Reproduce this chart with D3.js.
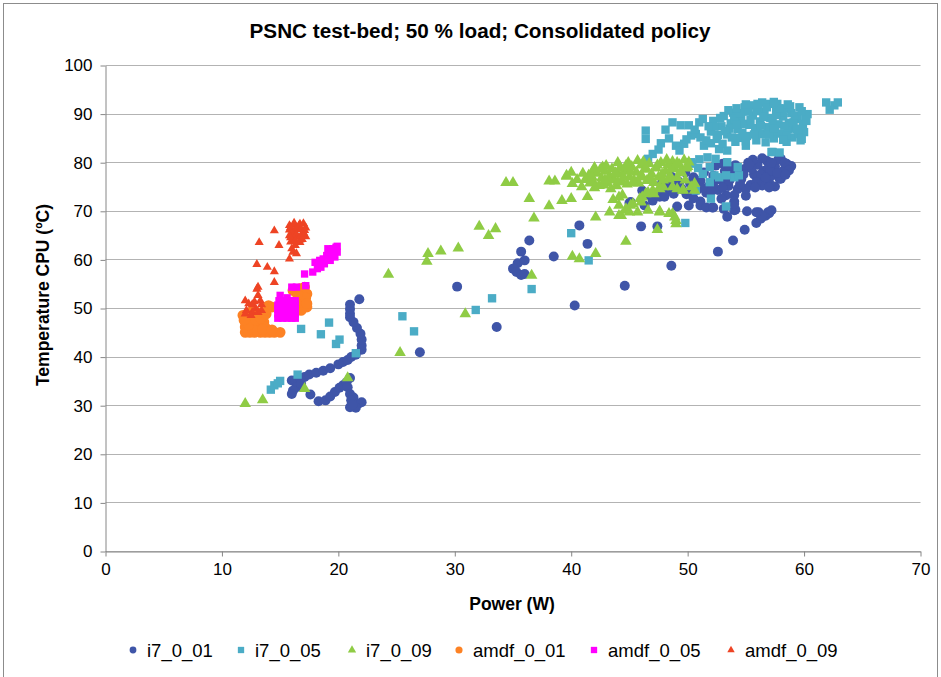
<!DOCTYPE html>
<meta charset="utf-8">
<style>
body { margin: 0; background: #fff; }
text { font-family: "Liberation Sans", Arial, sans-serif; fill: #000; }
.grid line { stroke: #b3b3b3; stroke-width: 1.2px; }
.axis path, .axis line { stroke: #868686; }
.title { font-size: 20.7px; font-weight: bold; }
.atitle { font-size: 17.5px; font-weight: bold; }
.legend text { font-size: 18.5px; }
</style>
<body>
<script src="https://d3js.org/d3.v7.min.js"></script>
<script>

// series names and tick values
var seriesNames = ["i7_0_01", "i7_0_05", "i7_0_09", "amdf_0_01", "amdf_0_05", "amdf_0_09"];
var xTicks = [0, 10, 20, 30, 40, 50, 60, 70];
var yTicks = [0, 10, 20, 30, 40, 50, 60, 70, 80, 90, 100];

// [power W, temperature C]
var i7_0_01 = [
  [16.0,35.2],[16.3,35.2],[16.7,35.7],[17.1,35.9],[17.5,36.4],[18.1,36.8],[18.7,37.2],[19.3,37.7],
  [20.0,38.5],[20.4,39.0],[20.8,39.4],[21.1,40.0],[21.5,40.5],[22.0,41.5],[22.0,42.4],[22.0,43.6],
  [21.9,44.8],[21.6,46.0],[21.3,47.2],[21.0,48.2],[21.0,48.9],[21.0,49.9],[21.0,50.8],[21.8,51.9],
  [16.4,33.8],[16.1,33.1],[16.0,32.4],[16.8,34.5],[17.6,32.3],[18.3,30.9],[18.9,31.1],[19.3,31.9],
  [19.7,32.8],[20.1,33.7],[20.4,34.2],[20.7,34.8],[21.0,35.7],[20.8,33.8],[21.0,32.4],[21.3,31.7],
  [21.1,31.1],[21.3,30.0],[21.7,30.4],[22.0,30.7],[21.0,29.7],[21.5,29.6],[21.2,30.2],
  [27.0,41.0],[30.2,54.5],[33.6,46.2],[35.4,59.3],[35.0,58.2],[35.3,57.5],[35.7,56.9],[36.0,57.1],
  [35.7,61.7],[36.0,59.9],[36.4,64.0],[38.5,60.7],[40.3,50.6],[40.7,67.1],[41.4,63.3],[44.6,54.7],
  [48.6,58.8],[46.0,66.9],[47.4,66.9],[45.0,71.7],[52.6,61.7],[53.9,64.0],[54.9,66.2],[55.9,67.6],
  [56.3,68.5],[56.7,69.1],[57.0,69.6],[53.4,68.9],[55.1,70.0],[56.1,69.8],[56.9,69.8],[54.0,70.2],
  [50.1,71.2],[51.1,72.0],[52.1,70.8],[53.1,70.5],[54.1,70.3],[57.2,70.2],[56.4,69.1],
  [45.1,71.9],[46.1,74.3],[46.7,73.3],[47.0,72.2],[46.3,71.2],[47.6,73.0],[48.1,74.0],[48.4,75.3],
  [48.8,73.6],[49.2,76.2],[49.5,74.6],[49.9,73.5],[50.2,75.8],[50.5,77.0],[50.8,74.4],[51.1,76.3],
  [51.4,78.0],[51.6,73.8],[51.9,75.4],[52.2,77.3],[52.4,79.4],[52.6,74.4],[52.9,76.4],[53.2,78.3],
  [53.5,75.2],[53.8,77.5],[54.1,79.5],[54.3,74.6],[54.6,76.6],[54.9,78.7],[55.2,80.0],[55.4,75.4],
  [55.7,77.6],[56.0,79.6],[56.2,76.3],[56.5,78.3],[56.8,80.4],[57.0,75.9],[57.3,77.4],[57.5,79.2],
  [57.8,80.7],[58.0,76.7],[58.2,78.3],[58.5,79.8],[58.9,79.3],[58.0,80.8],[53.3,73.3],[52.9,72.6],
  [54.0,73.3],[54.0,72.0],[54.0,71.5],[51.1,71.2],[51.6,70.8],[52.2,70.8],[49.1,71.0],
  [50.5,72.7],[53.0,79.8],[55.6,80.6],[56.9,78.8],[55.0,74.6],[56.4,75.3],[57.9,76.7],[48.6,77.1],
  [49.8,78.0],[47.8,75.8],[55.9,69.8],[55.0,73.2],[57.5,75.1],
  [55.5,78.8],[56.3,77.6],[57.1,78.4],[57.7,77.9],[58.3,80.0],[58.7,78.4],[56.7,76.9],[55.9,76.0],
  [54.8,77.6],[53.6,76.4],[52.2,75.8],[51.3,74.8],[50.3,74.0],[49.3,75.3],[48.0,73.0],[54.5,75.6],
  [55.8,74.9],[57.0,74.9],[58.4,77.5],[53.0,74.9],[52.0,74.0],[50.7,75.6],[54.1,78.0],[55.3,79.6],
  [56.4,80.9],[57.2,80.0],[53.6,79.2]
];

var i7_0_05 = [
  [14.2,33.3],[14.5,34.2],[15.0,35.1],[14.8,34.6],[16.5,36.4],[16.8,45.8],[18.5,44.7],[19.2,47.1],
  [19.8,42.7],[20.1,43.6],[21.5,40.8],[25.5,48.4],[26.5,45.3],[31.8,49.7],[33.2,52.1],[36.6,54.0],
  [40.0,65.5],[41.5,59.9],[49.8,67.6],[53.3,71.0],[52.0,72.6],[50.7,74.3],
  [50.3,80.1],[51.0,80.7],[51.7,81.1],[52.4,80.8],[53.4,80.1],[54.3,79.1],[50.9,78.9],[51.9,79.1],
  [52.3,77.4],[52.7,77.0],[53.3,77.4],[54.0,77.0],[51.9,76.0],[50.4,79.8],[51.3,77.7],[54.4,77.4],
  [57.3,82.2],[57.9,82.1],
  [46.4,86.6],[46.4,84.9],[48.1,86.8],[48.7,88.3],[49.4,87.7],[50.1,87.7],[49.0,83.5],[49.3,82.5],
  [49.7,83.9],[50.3,85.6],[50.7,85.9],[51.1,85.2],[51.4,83.5],[51.6,84.6],[46.6,80.8],[47.0,81.8],
  [47.5,82.7],[51.0,88.3],[51.3,89.0],
  [52.0,86.4],[52.2,88.6],[52.5,84.9],[52.7,82.8],[52.9,87.5],[53.1,89.6],[53.4,82.5],[53.4,85.8],
  [53.7,88.1],[53.9,90.3],[54.1,84.3],[54.3,86.9],[54.6,89.0],[54.9,91.4],[55.0,83.5],[55.1,85.5],
  [55.3,87.8],[55.5,91.8],[55.6,89.7],[55.9,84.6],[56.0,86.6],[56.2,88.5],[56.4,92.4],[56.4,85.9],
  [56.6,90.4],[56.9,87.3],[57.0,92.1],[57.1,89.2],[57.2,82.2],[57.4,85.0],[57.6,90.9],[57.7,92.1],
  [57.8,87.9],[58.0,86.0],[58.2,89.5],[58.4,91.1],[58.5,84.3],[58.7,88.2],[58.9,90.2],[59.0,85.2],
  [59.2,87.0],[59.4,89.0],[59.6,91.4],[59.7,84.6],[59.9,88.0],[60.1,89.6],[60.3,90.0],[60.0,86.3],
  [52.6,85.7],[53.0,83.9],[53.6,87.0],[54.0,89.0],[54.4,85.1],[54.8,88.0],[55.2,90.5],[55.8,87.1],
  [56.1,91.1],[56.7,84.2],[57.3,88.4],[57.5,86.5],[58.1,90.3],[58.6,86.9],[59.1,88.3],[59.5,85.9],
  [52.3,87.4],[52.8,89.2],[53.2,86.5],[53.8,85.2],[54.2,87.8],[54.5,90.2],[54.7,86.2],[55.0,84.4],
  [55.4,88.8],[55.7,85.8],[55.9,90.6],[56.3,87.6],[56.5,89.4],[56.8,91.4],[57.0,85.8],[57.4,87.0],
  [57.6,89.8],[57.9,91.2],[58.3,87.6],[58.5,85.6],[58.8,91.6],[59.2,89.7],[59.4,86.9],[59.8,90.6],
  [60.2,88.6],[59.8,84.9],[58.2,84.7],[53.5,90.8],[54.2,91.2],[55.0,92.0],[56.0,92.1],[57.4,92.5],
  [58.6,92.0],[52.0,84.0],[51.8,87.5],[50.6,86.8],[49.9,84.8],[48.4,85.0],[47.7,84.0],
  [61.9,92.4],[62.2,90.9],[62.6,91.8],[62.9,92.4]
];

var i7_0_09 = [
  [12.0,30.4],[13.5,31.2],[17.1,33.5],[20.8,35.7],[24.3,57.0],[25.3,40.9],[27.6,59.7],[27.7,61.3],
  [28.8,61.8],[30.3,62.4],[30.9,48.9],[32.1,66.9],[32.9,65.0],[33.5,66.4],[34.4,75.9],[35.0,75.9],
  [36.4,72.6],[36.8,68.6],[36.6,56.8],[38.1,71.1],[38.1,76.2],[38.6,76.2],[39.6,77.2],[39.2,72.2],
  [40.0,72.6],[40.1,60.7],[40.7,60.2],[42.1,61.3],[44.7,63.8],[47.4,66.2],
  [42.1,68.8],[43.3,69.8],[44.3,69.1],[44.7,70.2],[45.7,69.8],[46.6,70.2],[47.6,69.8],[48.7,69.5],
  [49.0,68.1],[49.0,67.4],[44.1,69.1],[44.7,70.5],[45.0,69.8],[48.4,69.5],[48.9,68.8],[47.6,70.0],
  [45.3,71.5],[45.9,72.6],[46.4,73.6],[47.0,74.3],[47.6,75.0],[44.4,73.3],[43.6,72.4],[41.4,73.0],
  [44.1,72.9],[44.1,71.2],[45.1,71.2],[46.0,71.9],[46.1,72.9],[46.6,73.9],[47.1,73.6],[47.6,74.6],
  [47.9,75.0],[48.7,75.0],[49.1,74.6],[49.6,74.3],[50.6,75.7],[50.3,75.0],[50.6,74.3],[49.6,74.4],
  [39.6,77.4],[40.1,75.7],[40.9,75.0],[41.6,75.8],[41.8,78.0],[42.7,79.1],
  [41.2,76.5],[41.5,77.4],[41.9,76.0],[42.2,77.8],[42.4,75.3],[42.6,76.8],[42.9,78.2],[43.1,75.9],
  [43.3,77.3],[43.5,78.7],[43.7,76.4],[43.9,75.2],[44.1,77.6],[44.2,79.0],[44.4,76.1],[44.6,78.3],
  [44.8,75.6],[45.0,77.0],[45.2,79.2],[45.4,76.4],[45.6,78.0],[45.8,75.8],[46.0,79.5],[46.1,77.2],
  [46.3,78.6],[46.5,76.3],[46.7,79.8],[46.9,77.7],[47.1,75.9],[47.3,78.9],[47.5,77.0],[47.7,80.0],
  [47.9,76.4],[48.1,78.2],[48.3,79.5],[48.5,77.3],[48.7,80.2],[48.9,78.7],[49.1,76.9],[49.3,79.6],
  [49.5,77.9],[49.7,80.5],[49.9,78.9],[50.1,80.1],[42.0,79.0],[43.0,79.4],[44.9,80.0],[45.7,80.4],
  [44.7,79.4],[40.5,76.5],[40.0,78.0],
  [41.0,77.8],[41.8,77.0],[42.5,78.6],[43.2,76.6],[43.8,77.9],[44.5,77.0],[45.1,78.2],[45.9,77.0],
  [46.4,79.0],[46.8,76.6],[47.4,79.5],[47.8,77.6],[48.4,76.6],[48.6,78.7],[49.1,80.0],[49.4,78.3],
  [49.8,76.4],[50.0,79.2],[45.3,75.8],[44.0,76.0],[42.8,75.4],[42.0,74.8],[43.4,74.6],[48.2,80.6],
  [46.2,80.2],[44.0,80.0],[42.9,76.4]
];

var amdf_0_01 = [
  [12.0,45.1],[12.4,45.1],[12.8,45.1],[13.3,45.1],[13.7,45.1],[14.1,45.1],[14.5,45.1],[15.0,45.1],
  [12.0,47.2],[12.4,47.2],[12.8,47.2],[13.6,47.2],[11.8,48.6],[12.3,48.6],[12.7,48.6],[13.3,48.6],
  [12.0,46.2],[12.7,46.2],[13.7,46.2],[14.0,50.6],[14.3,50.3],[13.5,49.2],[12.2,47.8],[13.1,46.8],
  [12.2,45.6],[12.6,45.8],[13.0,45.5],[13.5,45.7],[14.3,45.6],[12.3,46.6],[12.9,47.6],[13.3,47.9],
  [11.9,47.6],[12.5,49.3],[12.9,49.3],[13.8,48.9],
  [16.1,53.7],[16.7,54.1],[17.1,54.4],[17.3,53.0],[17.0,51.6],[16.7,50.9],[17.3,50.3],[16.8,49.6],
  [16.3,49.6],[16.0,51.3],[17.2,52.2],[16.5,52.8],[17.3,51.0]
];

var amdf_0_05 = [
  [14.8,48.0],[15.2,48.0],[15.6,48.0],[16.0,48.0],[16.3,48.0],[14.8,48.9],[15.2,48.9],[15.6,48.9],
  [16.0,48.9],[16.3,48.9],[14.8,49.8],[15.2,49.8],[15.6,49.8],[16.0,49.8],[16.3,49.8],[14.8,50.7],
  [15.2,50.7],[15.6,50.7],[16.0,50.7],[16.3,50.7],[14.9,51.6],[15.2,51.6],[15.6,51.6],[16.0,51.6],
  [16.3,51.6],[15.0,52.7],[15.6,52.2],[16.0,54.4],[16.4,54.4],[17.2,54.7],[17.1,57.1],[17.8,57.5],
  [18.2,58.2],[18.5,58.5],[18.0,59.5],[18.4,59.9],[18.7,60.2],[19.0,60.9],[19.3,61.6],[19.5,62.3],
  [19.8,62.6],[19.1,62.3],[19.5,61.3],[19.9,61.6],[19.3,59.9],[18.8,59.2],[19.9,62.8],[19.7,60.6]
];

var amdf_0_09 = [
  [15.8,67.1],[16.2,67.3],[16.6,67.0],[17.0,67.5],[17.2,66.6],[15.8,66.2],[16.2,65.8],[16.6,66.3],
  [17.0,65.6],[17.2,64.8],[15.8,65.0],[16.1,64.3],[16.5,64.8],[16.9,64.2],[15.9,63.7],[16.7,63.6],
  [16.3,63.0],[16.0,62.3],[16.1,61.6],[16.4,61.3],[15.8,60.2],
  [15.9,66.7],[16.4,66.6],[16.8,66.4],[17.1,66.1],[16.0,65.4],[16.4,65.2],[16.8,65.1],[15.9,64.6],
  [16.3,64.0],[16.7,64.1],[17.0,64.9],[16.2,67.6],[16.7,67.4],
  [14.5,66.0],[13.2,63.6],[14.9,63.0],[13.0,59.1],[13.9,58.5],[14.5,57.6],[14.5,55.4],[13.1,54.4],
  [13.0,54.0],[13.1,52.7],[12.0,51.6],[12.3,51.0],[12.6,50.8],[12.8,51.4],[13.3,51.6],[12.1,49.6],
  [12.6,49.2],[13.1,49.2],[13.4,49.6],[12.0,48.9],[12.5,48.6],[12.9,50.0],[13.4,50.8]
];

var colors = ["#3f55a8", "#4bacc6", "#8fcc45", "#fd8224", "#ff00ff", "#ee4424"];
var seriesData = [i7_0_01, i7_0_05, i7_0_09, amdf_0_01, amdf_0_05, amdf_0_09];

var margin = {top: 65, right: 21, bottom: 126, left: 105},
    width = 941 - margin.left - margin.right,
    height = 677 - margin.top - margin.bottom;

var root = d3.select("body").append("svg")
    .attr("width", 941)
    .attr("height", 677);

// outer frame of the chart
root.append("rect")
    .attr("x", 3.5).attr("y", 3.5)
    .attr("width", 934).attr("height", 700)
    .style("fill", "none")
    .style("stroke", "#8c8c8c");

var svg = root.append("g")
    .attr("transform", "translate(" + (margin.left + 0.5) + "," + (margin.top + 0.5) + ")");

var x = d3.scaleLinear().domain([0, 70]).range([0, width]);
var y = d3.scaleLinear().domain([0, 100]).range([height, 0]);

// gridlines
svg.append("g")
    .attr("class", "grid")
  .selectAll("line")
    .data(yTicks)
  .enter().append("line")
    .attr("x1", 0).attr("x2", width)
    .attr("y1", function(d) { return Math.round(y(d)); })
    .attr("y2", function(d) { return Math.round(y(d)); });

// x axis
svg.append("g")
    .attr("class", "axis")
    .attr("transform", "translate(0," + height + ")")
    .call(d3.axisBottom(x).tickValues(xTicks).tickSize(5).tickSizeOuter(0).tickPadding(6));

// y axis
svg.append("g")
    .attr("class", "axis")
    .call(d3.axisLeft(y).tickValues(yTicks).tickSize(5).tickSizeOuter(0).tickPadding(8));

svg.selectAll(".axis text").style("font-family", "'Liberation Sans', Arial, sans-serif").style("font-size", "17px");

// points
var shapes = [d3.symbolCircle, d3.symbolSquare, d3.symbolTriangle, d3.symbolCircle, d3.symbolSquare, d3.symbolTriangle];
var sizes = [78, 70, 58, 92, 54, 36];

seriesData.forEach(function(data, i) {
  svg.append("g")
    .selectAll("path")
      .data(data)
    .enter().append("path")
      .attr("d", d3.symbol().type(shapes[i]).size(sizes[i]))
      .attr("transform", function(d) { return "translate(" + x(d[0]) + "," + y(d[1]) + ")"; })
      .style("fill", colors[i]);
});

// titles
root.append("text")
    .attr("class", "title")
    .attr("x", 480).attr("y", 38)
    .attr("text-anchor", "middle")
    .text("PSNC test-bed; 50 % load; Consolidated policy");

root.append("text")
    .attr("class", "atitle")
    .attr("x", 512).attr("y", 610)
    .attr("text-anchor", "middle")
    .text("Power (W)");

root.append("text")
    .attr("class", "atitle")
    .attr("text-anchor", "middle")
    .attr("transform", "translate(49,295)rotate(-90)")
    .text("Temperature CPU (ºC)");

// legend
var legendX = [133, 241, 352, 459, 594, 731];
var legendSizes = [36, 40, 30, 40, 40, 24];
var legend = root.append("g").attr("class", "legend");
seriesNames.forEach(function(name, i) {
  legend.append("path")
    .attr("d", d3.symbol().type(shapes[i]).size(legendSizes[i]))
    .attr("transform", "translate(" + legendX[i] + ",650)")
    .style("fill", colors[i]);
  legend.append("text")
    .attr("x", legendX[i] + 14).attr("y", 657)
    .text(name);
});

</script>
</body>
